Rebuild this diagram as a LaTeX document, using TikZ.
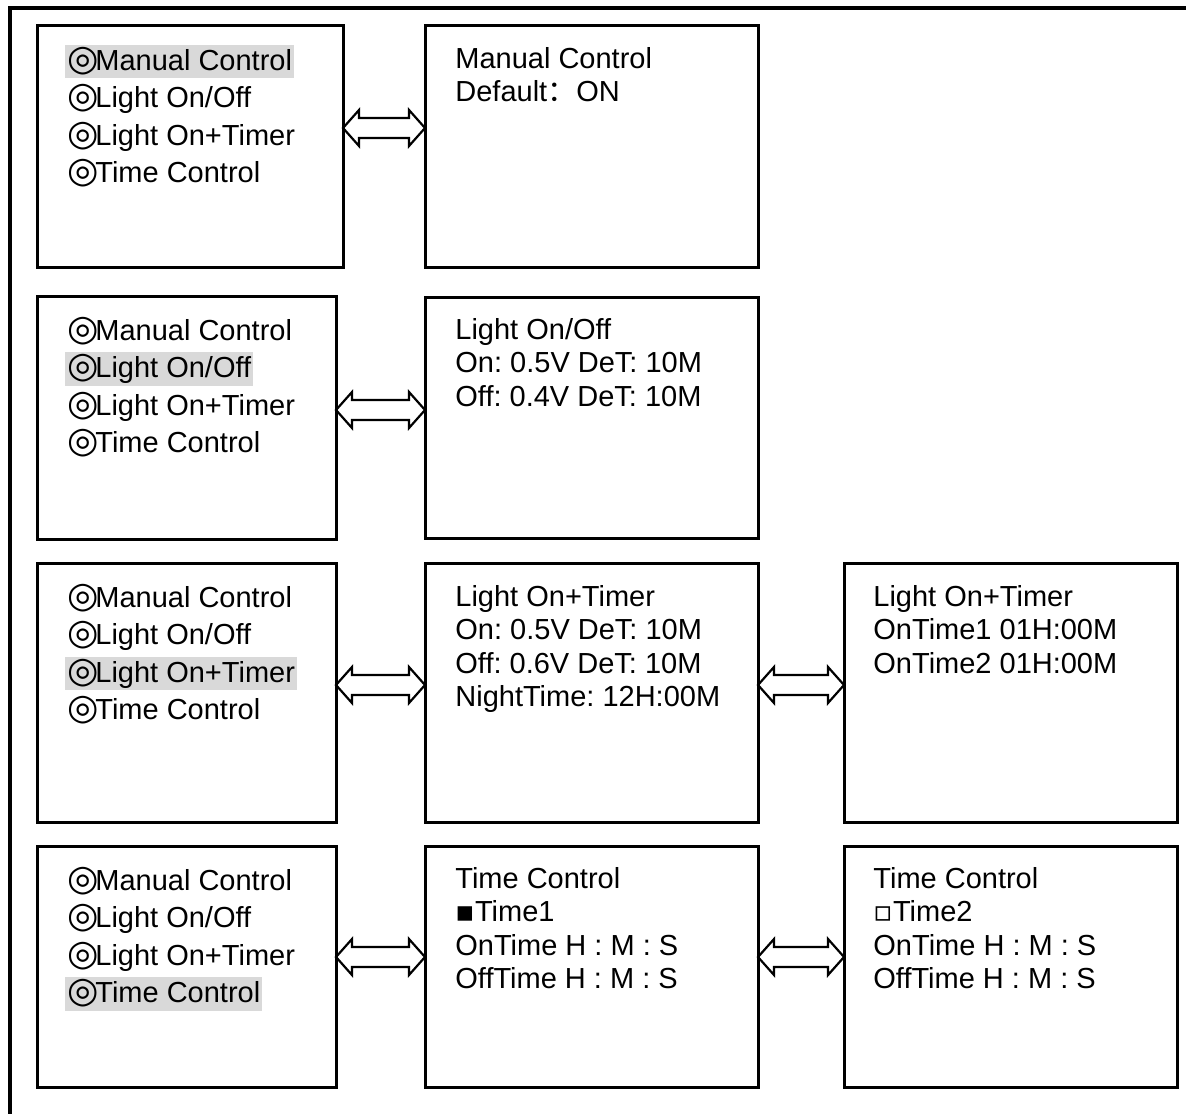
\documentclass[tikz,border=0pt]{standalone}
\usepackage{fontspec}
\setmainfont{Liberation Sans}
\newfontfamily\symfont{DejaVu Sans}
\newfontfamily\cjk{Noto Sans CJK SC}
\usepackage{xcolor}
\usepackage{tikz}
\usetikzlibrary{positioning, calc}

\frenchspacing
\definecolor{selgray}{gray}{0.85}
\newcommand{\dring}{\makebox[14pt][l]{\symfont\fontsize{18}{18}\selectfont ◎}}
\newcommand{\selitem}[1]{\hspace*{-1pt}{\setlength{\fboxsep}{1pt}\colorbox{selgray}{\rule[-3pt]{0pt}{14pt}#1}}}
% hollow two-way arrow between two screens
\newcommand{\twoway}[3]{%
  \draw[arrowline] let \p1=([yshift=#3]#1.east), \p2=(#2.west) in
    (\x1,\y1) -- ++(8pt,9pt) -- ++(0,-4pt) -- (\x2-8pt,\y1+5pt) -- ++(0,4pt) -- (\x2,\y1)
    -- ++(-8pt,-9pt) -- ++(0,4pt) -- (\x1+8pt,\y1-5pt) -- ++(0,-4pt) -- cycle;}

\begin{document}
\begin{tikzpicture}[
    x=0.5pt, y=-0.5pt,
    screen/.style   = {rectangle, draw, line width=1.5pt, anchor=north west, inner sep=0pt, outer sep=0pt},
    menubox/.style  = {screen, minimum width=149.5pt, minimum height=120.5pt},
    pagebox/.style  = {screen, minimum width=166.5pt, minimum height=120.5pt},
    menutext/.style = {anchor=base west, align=left, inner sep=0pt, font=\fontsize{14.5}{18.75}\selectfont},
    pagetext/.style = {anchor=base west, align=left, inner sep=0pt, font=\fontsize{14.5}{16.75}\selectfont},
    arrowline/.style = {line width=1.1pt},
    outerframe/.style = {line width=1.6pt}
]
\useasboundingbox (0,0) rectangle (1186,1113);
\draw[outerframe] (1200,8) -| (10,1120);

% row 1
\node[menubox, minimum width=153pt] (menuA) at (37,26) {};
\node[pagebox, right=41pt of menuA] (pageA) {};
\node[menutext] (menuAtxt) at ([shift={(30,156.5)}]menuA.north west)
    {\selitem{\dring Manual Control}\\ \dring Light On/Off\\ \dring Light On+Timer\\ \dring Time Control};
\node[pagetext] (pageAtxt) at ([shift={(30,76)}]pageA.north west)
    {Manual Control\\ Default{\cjk ：}ON};
\twoway{menuA}{pageA}{9.25pt}

% row 2
\node[menubox, minimum height=121.5pt] (menuB) at (37,296) {};
\node[pagebox, right=44.5pt of menuB] (pageB) {};
\node[menutext] (menuBtxt) at ([shift={(30,156.5)}]menuB.north west)
    {\dring Manual Control\\ \selitem{\dring Light On/Off}\\ \dring Light On+Timer\\ \dring Time Control};
\node[pagetext] (pageBtxt) at ([shift={(30,109)}]pageB.north west)
    {Light On/Off\\ On: 0.5V DeT: 10M\\ Off: 0.4V DeT: 10M};
\twoway{menuB}{pageB}{3.75pt}

% row 3
\node[menubox, minimum height=129.5pt] (menuC) at (37,563) {};
\node[pagebox, minimum height=129.5pt, right=44.5pt of menuC] (pageC) {};
\node[pagebox, minimum height=129.5pt, right=43pt of pageC] (subC) {};
\node[menutext] (menuCtxt) at ([shift={(30,156.5)}]menuC.north west)
    {\dring Manual Control\\ \dring Light On/Off\\ \selitem{\dring Light On+Timer}\\ \dring Time Control};
\node[pagetext] (pageCtxt) at ([shift={(30,143.5)}]pageC.north west)
    {Light On+Timer\\ On: 0.5V DeT: 10M\\ Off: 0.6V DeT: 10M\\ NightTime: 12H:00M};
\node[pagetext] (subCtxt) at ([shift={(29,110)}]subC.north west)
    {Light On+Timer\\ OnTime1 01H:00M\\ OnTime2 01H:00M};
\twoway{menuC}{pageC}{3.75pt}
\twoway{pageC}{subC}{3.75pt}

% row 4
\node[menubox] (menuD) at (37,846) {};
\node[pagebox, right=44.5pt of menuD] (pageD) {};
\node[pagebox, right=43pt of pageD] (subD) {};
\node[menutext] (menuDtxt) at ([shift={(30,156.5)}]menuD.north west)
    {\dring Manual Control\\ \dring Light On/Off\\ \dring Light On+Timer\\ \selitem{\dring Time Control}};
\node[pagetext] (pageDtxt) at ([shift={(30,142.5)}]pageD.north west)
    {Time Control\\ {\symfont ▪}Time1\\ OnTime H : M : S\\ OffTime H : M : S};
\node[pagetext] (subDtxt) at ([shift={(29,142.5)}]subD.north west)
    {Time Control\\ {\symfont ▫}Time2\\ OnTime H : M : S\\ OffTime H : M : S};
\twoway{menuD}{pageD}{4.75pt}
\twoway{pageD}{subD}{4.75pt}
\end{tikzpicture}
\end{document}
